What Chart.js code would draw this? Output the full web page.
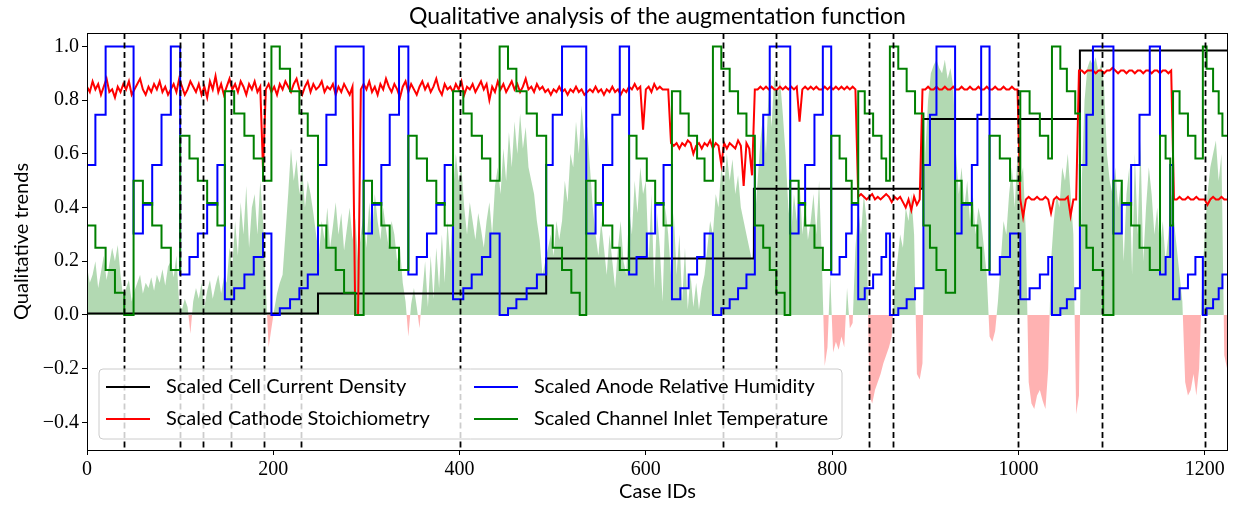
<!DOCTYPE html>
<html>
<head>
<meta charset="utf-8">
<script src="https://cdn.jsdelivr.net/npm/chart.js@4.4.0/dist/chart.umd.min.js"></script>
<style>
  html, body { margin: 0; padding: 0; background: #fff; }
</style>
</head>
<body>
<canvas id="myChart" width="1241" height="505"></canvas>
<script>
// Case IDs are sampled every 3 cases for the noisy series
const sampleStep = 3;
const lastCase = 1225;

const caseTicks = [0, 200, 400, 600, 800, 1000, 1200];
const trendTicks = [-0.4, -0.2, 0.0, 0.2, 0.4, 0.6, 0.8, 1.0];

// Cases where a dashed marker is drawn
const markedCases = [40, 100, 125, 155, 190, 230, 400, 683, 740, 840, 865, 1000, 1090, 1200];

// Scaled cell current density (step levels)
const currentCases = [0, 248, 493, 716, 897, 1066];
const currentLevels = [0.005, 0.08, 0.21, 0.47, 0.73, 0.985];

// Anode RH and inlet temperature change together at these cases
const stepCases = [
  0, 9, 20, 30, 40, 50, 60, 70, 80, 90, 100, 110, 119, 129, 140, 148, 158, 169, 179, 189, 198, 207, 218, 228, 237,
  248, 257, 267, 276, 288, 297, 306, 316, 325, 335, 345, 354, 365, 375, 384, 393, 404, 413, 424, 433, 443, 452, 461, 472, 483,
  493, 500, 510, 520, 529, 536, 546, 554, 564, 572, 582, 590, 601, 610, 619, 628, 637, 646, 655, 663, 672, 681, 690, 699, 708,
  717, 726, 733, 740, 749, 755, 764, 771, 781, 790, 799, 808, 815, 821, 828, 835, 844, 853, 858, 862, 871, 880, 889,
  898, 905, 912, 922, 932, 939, 950, 956, 960, 969, 980, 991, 1002, 1012, 1023, 1032, 1036, 1045, 1052, 1061,
  1066, 1073, 1080, 1091, 1102, 1111, 1121, 1130, 1141, 1152, 1158, 1163, 1166, 1173, 1182, 1190, 1198, 1202, 1209, 1215, 1219
];
const anodeRH = [
  .558, .746, 1, 1, 1, .303, .41, .558, .746, 1, .151, .216, .303, .41, .558, .058, .099, .151, .216, .303, 0, .025, .058, .099, .151,
  .558, .746, 1, 1, 1, .303, .41, .558, .746, 1, .151, .216, .303, .41, .558, .058, .099, .151, .216, .303, 0, .025, .058, .099, .151,
  .558, .746, 1, 1, 1, .303, .41, .558, .746, 1, .151, .216, .303, .41, .558, .058, .099, .151, .216, .303, 0, .025, .058, .099, .151,
  .558, .746, 1, 1, 1, .303, .41, .558, .746, 1, .151, .216, .303, .41, .058, .099, .151, .216, .303, 0, .025, .058, .099,
  .558, .746, 1, 1, .303, .41, .558, .746, 1, .151, .216, .303, .058, .099, .151, .216, 0, .025, .058, .099,
  .558, .746, 1, 1, .303, .41, .558, .746, 1, .151, .216, .558, .058, .099, .151, .216, 0, .025, .058, .099, .151
];
const inletTemp = [
  .333, .25, .167, .083, 0, .5, .417, .333, .25, .167, .667, .583, .5, .417, .333, .833, .75, .667, .583, .5, 1, .917, .833, .75, .667,
  .333, .25, .167, .083, 0, .5, .417, .333, .25, .167, .667, .583, .5, .417, .333, .833, .75, .667, .583, .5, 1, .917, .833, .75, .667,
  .333, .25, .167, .083, 0, .5, .417, .333, .25, .167, .667, .583, .5, .417, .333, .833, .75, .667, .583, .5, 1, .917, .833, .75, .667,
  .333, .25, .167, .083, 0, .5, .417, .333, .25, .167, .667, .583, .5, .417, .833, .75, .667, .583, .5, 1, .917, .833, .75,
  .333, .25, .167, .083, .5, .417, .333, .25, .167, .667, .583, .5, .833, .75, .667, .583, 1, .917, .833, .75,
  .333, .25, .167, 0, .5, .417, .333, .25, .167, .667, .583, .333, .833, .75, .667, .583, 1, .917, .833, .75, .667
];

// Scaled cathode stoichiometry, one value every 3 cases
const cathodeStoich = [
  .85,.83,.87,.84,.86,.82,.85,.88,.83,.84, .81,.85,.83,.86,.84,.87,.82,.84,.86,.88,
  .84,.82,.85,.83,.86,.84,.87,.83,.85,.82, .84,.86,.83,.88,.85,.82,.84,.87,.85,.83,
  .86,.82,.85,.81,.87,.84,.89,.83,.86,.82, .85,.88,.84,.86,.83,.87,.85,.82,.86,.84,
  .87,.83,.85,.54,.84,.86,.83,.85,.82,.86, .84,.87,.85,.83,.86,.88,.84,.82,.85,.87,
  .83,.86,.84,.85,.87,.83,.85,.84,.86,.82, .85,.83,.86,.84,.82,.85,0,0,.84,.86,
  .84,.87,.83,.85,.82,.86,.84,.88,.85,.83, .86,.84,.81,.85,.87,.83,.86,.84,.82,.85,
  .87,.84,.86,.83,.85,.88,.84,.82,.86,.84, .85,.83,.86,.84,.87,.82,.85,.84,.86,.83,
  .85,.87,.84,.86,.80,.85,.83,.87,.84,.86, .83,.85,.87,.84,.86,.83,.85,.88,.84,.85,
  .83,.86,.84,.85,.83,.84,.82,.84,.83,.85, .83,.84,.82,.84,.83,.85,.83,.84,.82,.83,
  .84,.83,.85,.83,.84,.82,.84,.83,.85,.83, .84,.82,.84,.83,.85,.84,.86,.84,.85,.69,
  .84,.85,.83,.86,.84,.85,.84,.84,.84,.64, .63,.64,.62,.64,.63,.65,.64,.60,.63,.64,
  .62,.64,.63,.65,.62,.64,.63,.56,.64,.62, .64,.63,.62,.65,.63,.48,.64,.62,.52,.84,
  .84,.85,.84,.85,.84,.85,.84,.84,.85,.84, .85,.84,.85,.84,.85,.72,.84,.85,.84,.85,
  .84,.85,.84,.84,.85,.84,.85,.84,.85,.84, .85,.84,.85,.84,.85,.84,.44,.45,.44,.43,
  .44,.45,.43,.44,.43,.44,.45,.44,.42,.44, .43,.44,.42,.40,.43,.39,.44,.41,.43,.84,
  .84,.85,.84,.84,.85,.84,.84,.85,.84,.84, .85,.84,.84,.85,.84,.84,.85,.84,.84,.85,
  .84,.84,.85,.84,.84,.85,.84,.84,.85,.84, .84,.85,.84,.84,.43,.365,.43,.44,.43,.43,
  .44,.43,.43,.44,.43,.38,.43,.44,.43,.43, .43,.44,.37,.43,.43,.91,.91,.90,.91,.91,
  .91,.90,.91,.91,.90,.91,.91,.92,.91,.90, .91,.91,.90,.91,.91,.90,.91,.91,.90,.91,
  .91,.90,.91,.91,.90,.91,.91,.90,.91,.43, .43,.44,.43,.43,.44,.43,.43,.44,.43,.43,
  .43,.41,.43,.44,.43,.43,.44,.43,.43
];

// Augmentation function, one value every 3 cases (green above zero, red below)
const augmentation = [
  .18,.12,.15,.2,.1,.16,.22,.13,.19,.25, .2,.26,.15,.06,.1,.13,.05,.09,.12,.15,
  .08,.12,.1,.14,.09,.15,.12,.17,.11,.18, .2,.14,.22,.04,.02,.06,.03,-.07,.05,.1,
  .06,.12,.03,.09,.13,.06,.11,.15,.08,.14, .12,.25,.18,.35,.22,.42,.3,.48,.25,.4,
  .45,.3,.5,.35,.1,-.12,-.05,.02,.08,.12, .15,.3,.45,.62,.5,.58,.45,.55,.4,.5,
  .45,.38,.3,.22,.35,.28,.4,.25,.33,.42, .3,.38,.24,.32,.4,.28,.36,.2,.3,.38,
  .25,.42,.3,.45,.35,.28,.4,.32,.25,.35, .3,.2,.25,.12,.05,-.08,.04,.1,.03,-.05,
  .08,.2,.03,.22,.06,.25,.1,.3,.12,.35, .2,.45,.6,.5,.55,.4,.3,.42,.35,.28,
  .38,.32,.25,.35,.42,.3,.48,.55,.45,.62, .5,.68,.55,.72,.6,.75,.62,.7,.55,.5,
  .45,.35,.28,.15,.2,.25,.3,.22,.35,.28, .35,.5,.42,.6,.55,.72,.6,.78,.65,.7,
  .55,.4,.3,.22,.35,.25,.15,.3,.2,.1, .25,.35,.2,.15,.4,.3,.5,.38,.55,.45,
  .5,.2,.45,.1,.38,.25,.05,.4,.3,.15, .38,.15,.3,.05,.25,.02,.15,.03,.12,.02,
  .1,.15,.25,.35,.3,.45,.4,.55,.48,.6, .5,.58,.45,.52,.4,.35,.3,.25,.2,.35,
  .5,.65,.75,.6,.85,.7,.9,.8,.88,.75, .6,.4,.3,.45,.35,.5,.3,.42,.28,.35,
  .45,.3,.5,.2,-.19,-.12,.15,-.14,-.1,-.13, -.08,-.12,.1,-.05,-.03,.25,.4,.3,.45,.35,
  -.3,-.33,-.28,-.25,-.22,-.18,-.15,-.12,-.08,.1, .2,.3,.25,.4,.35,.45,.3,-.22,-.24,-.18,
  .6,.8,.9,.93,.95,.92,.9,.95,.88,.92, .85,.6,.45,.55,.4,.5,.35,.45,.3,.4,
  .35,.25,.15,-.08,-.1,-.06,.05,.2,.35,.3, .45,.55,.4,.6,.5,.55,.3,-.25,-.33,-.35,
  -.3,-.28,-.32,-.35,-.2,.2,.35,.45,.4,.55, .5,.6,.45,.3,-.37,-.3,.5,.8,.92,.95,
  .93,.96,.9,.94,.85,.6,.5,.45,.55,.4, .5,.2,.45,.55,.15,.6,.3,.65,.2,.4,
  .55,.45,.3,.4,.25,.35,.2,.3,.45,.35, .25,.15,.05,-.25,-.3,-.28,-.22,-.3,-.2,.1,
  .3,.45,.55,.6,.65,.5,.6,-.15,-.2
];

const sansFont = "Lato, 'DejaVu Sans', sans-serif";
const serifFont = "'Liberation Serif', 'DejaVu Serif', serif";

function sampled(values) {
  return values.map((v, i) => ({ x: i * sampleStep, y: v }));
}

function steps(cases, values) {
  const pts = cases.map((c, i) => ({ x: c, y: values[i] }));
  pts.push({ x: lastCase, y: values[values.length - 1] });
  return pts;
}

function tickLabel(v) {
  return (v < 0 ? '\u2212' : '') + Math.abs(v).toFixed(1);
}

// Full box round the axes, dashed markers on top of the lines
const framePlugin = {
  id: 'frame',
  afterDatasetsDraw(chart) {
    const { ctx, chartArea: a, scales } = chart;
    ctx.save();
    ctx.beginPath();
    ctx.rect(a.left, a.top, a.right - a.left, a.bottom - a.top);
    ctx.clip();
    ctx.strokeStyle = '#000';
    ctx.lineWidth = 1.8;
    ctx.setLineDash([6, 3.5]);
    markedCases.forEach(c => {
      const px = Math.round(scales.x.getPixelForValue(c)) + 0.5;
      ctx.beginPath();
      ctx.moveTo(px, a.top);
      ctx.lineTo(px, a.bottom);
      ctx.stroke();
    });
    ctx.restore();

    ctx.save();
    ctx.strokeStyle = '#000';
    ctx.lineWidth = 1;
    ctx.strokeRect(a.left + 0.5, a.top + 0.5, a.right - a.left - 1, a.bottom - a.top);
    ctx.restore();
  }
};

// Title centred over the axes, and a two column legend inside the plot
const legendPlugin = {
  id: 'boxLegend',
  afterDraw(chart) {
    const { ctx, chartArea: a } = chart;
    ctx.save();
    ctx.fillStyle = '#000';
    ctx.font = '23px ' + sansFont;
    ctx.textAlign = 'center';
    ctx.textBaseline = 'middle';
    ctx.fillText('Qualitative analysis of the augmentation function', (a.left + a.right) / 2, 17);

    const bx = 99, by = 369, bw = 743, bh = 70, r = 4;
    ctx.beginPath();
    ctx.moveTo(bx + r, by);
    ctx.arcTo(bx + bw, by, bx + bw, by + bh, r);
    ctx.arcTo(bx + bw, by + bh, bx, by + bh, r);
    ctx.arcTo(bx, by + bh, bx, by, r);
    ctx.arcTo(bx, by, bx + bw, by, r);
    ctx.closePath();
    ctx.fillStyle = 'rgba(255,255,255,0.8)';
    ctx.fill();
    ctx.strokeStyle = '#cccccc';
    ctx.lineWidth = 1;
    ctx.stroke();

    const entries = [
      { text: 'Scaled Cell Current Density', color: '#000000', x: 106, y: 387 },
      { text: 'Scaled Cathode Stoichiometry', color: '#ff0000', x: 106, y: 419 },
      { text: 'Scaled Anode Relative Humidity', color: '#0000ff', x: 474, y: 387 },
      { text: 'Scaled Channel Inlet Temperature', color: '#008000', x: 474, y: 419 }
    ];
    ctx.font = '20px ' + sansFont;
    ctx.textAlign = 'left';
    entries.forEach(e => {
      ctx.strokeStyle = e.color;
      ctx.lineWidth = 2;
      ctx.beginPath();
      ctx.moveTo(e.x, e.y);
      ctx.lineTo(e.x + 44, e.y);
      ctx.stroke();
      ctx.fillStyle = '#000';
      ctx.fillText(e.text, e.x + 60, e.y);
    });
    ctx.restore();
  }
};

const axisStyle = {
  grid: { drawOnChartArea: false, drawTicks: true, tickLength: 5, color: '#000', lineWidth: 1 },
  border: { display: false }
};

new Chart(document.getElementById('myChart').getContext('2d'), {
  type: 'line',
  data: {
    datasets: [
      {
        label: 'Scaled Channel Inlet Temperature',
        data: steps(stepCases, inletTemp),
        stepped: true, borderColor: '#008000', borderWidth: 2, pointRadius: 0, fill: false, order: 1
      },
      {
        label: 'Scaled Anode Relative Humidity',
        data: steps(stepCases, anodeRH),
        stepped: true, borderColor: '#0000ff', borderWidth: 2, pointRadius: 0, fill: false, order: 2
      },
      {
        label: 'Scaled Cathode Stoichiometry',
        data: sampled(cathodeStoich),
        borderColor: '#ff0000', borderWidth: 2, pointRadius: 0, tension: 0, fill: false, order: 3
      },
      {
        label: 'Scaled Cell Current Density',
        data: steps(currentCases, currentLevels),
        stepped: true, borderColor: '#000000', borderWidth: 2, pointRadius: 0, fill: false, order: 4
      },
      {
        label: 'Augmentation',
        data: sampled(augmentation),
        borderWidth: 0, borderColor: 'rgba(0,0,0,0)', pointRadius: 0, tension: 0,
        fill: { target: 'origin', above: 'rgba(0,128,0,0.3)', below: 'rgba(255,0,0,0.3)' },
        order: 5
      }
    ]
  },
  options: {
    responsive: false,
    animation: false,
    events: [],
    layout: { padding: { left: 0, right: 13, top: 33, bottom: 0 } },
    plugins: {
      legend: { display: false },
      title: { display: false },
      tooltip: { enabled: false }
    },
    scales: {
      x: {
        type: 'linear', min: 0, max: lastCase,
        afterBuildTicks: s => { s.ticks = caseTicks.map(v => ({ value: v })); },
        afterFit: s => { s.height = 55; },
        ...axisStyle,
        ticks: { color: '#000', font: { family: serifFont, size: 20 }, padding: 3, maxRotation: 0, callback: v => String(v) },
        title: { display: true, text: 'Case IDs', color: '#000', font: { family: sansFont, size: 20 }, padding: { top: 0, bottom: 1 } }
      },
      y: {
        type: 'linear', min: -0.503, max: 1.05,
        afterBuildTicks: s => { s.ticks = trendTicks.map(v => ({ value: v })); },
        afterFit: s => { s.width = 87; },
        ...axisStyle,
        ticks: { color: '#000', font: { family: serifFont, size: 20 }, padding: 3, callback: v => tickLabel(v) },
        title: { display: true, text: 'Qualitative trends', color: '#000', font: { family: sansFont, size: 20 }, padding: { top: 10, bottom: 0 } }
      }
    }
  },
  plugins: [framePlugin, legendPlugin]
});
</script>
</body>
</html>
